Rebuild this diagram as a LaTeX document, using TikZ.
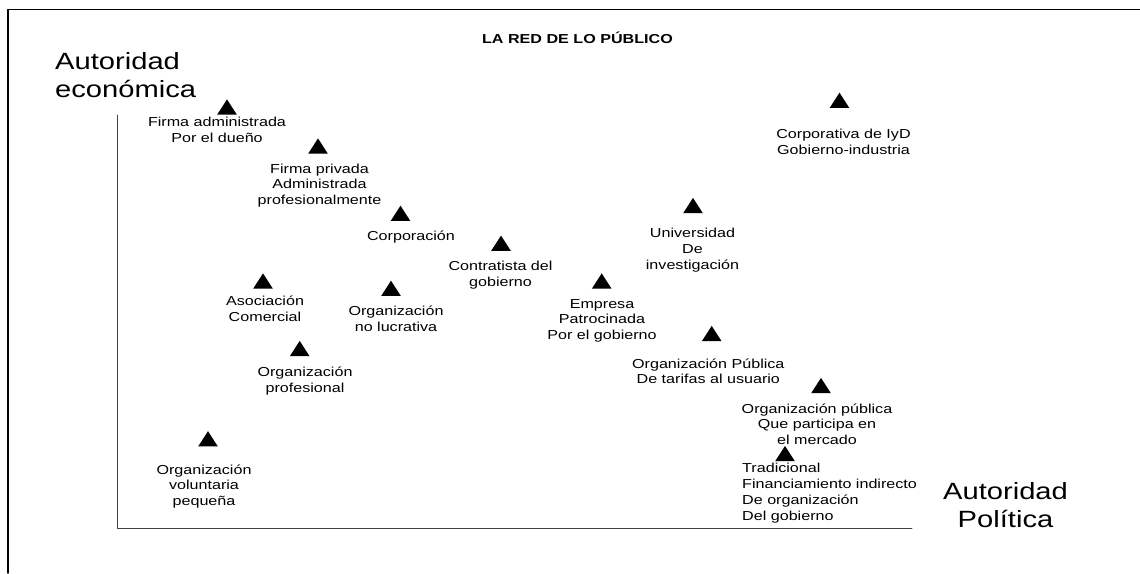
\documentclass[tikz,border=0pt]{standalone}
\usepackage{fontspec}
\setmainfont{Liberation Sans}[FakeStretch=1.24]
\newcommand{\tope}{\rule{0pt}{12pt}}
\newcommand{\topegr}{\rule{0pt}{20pt}}
\tikzset{
  pics/marca/.style={code={\fill (-9.8,7.6) -- (0,-7.6) -- (9.8,7.6) -- cycle;}},
  etiq/.style={font=\fontsize{13}{15.7}\selectfont,align=center,anchor=north,inner sep=0pt},
  titeje/.style={font=\fontsize{23.5}{27.5}\selectfont,inner sep=0pt},
}
\begin{document}
\begin{tikzpicture}[x=1pt,y=-1pt,line cap=round,line join=round]
  \useasboundingbox (0,0) rectangle (1140,573);
  % marco y ejes
  \draw[line width=1.8pt] (8,573) -- (8,9.5) -- (1140,9.5);
  \draw[line width=0.9pt,black!75] (117,115) -- (117,528.5) -- (912,528.5);
  \node[font=\fontsize{13}{15}\selectfont\bfseries,anchor=base,inner sep=0pt] (titulo) at (577.5,43.3) {LA RED DE LO PÚBLICO};
  \node[titeje,align=left,anchor=north west] (ejey) at (55,49.7) {\topegr Autoridad\\económica};
  \node[titeje,align=center,anchor=north] (ejex) at (1005.5,479.7) {\topegr Autoridad\\Política};
  % organizaciones
  \pic (m1) at (227,107) {marca};
  \node[etiq] (e1) at (217,114.5) {\tope Firma administrada\\Por el dueño};
  \pic (m2) at (318,146) {marca};
  \node[etiq] (e2) at (319.5,161) {\tope Firma privada\\Administrada\\profesionalmente};
  \pic (m3) at (400.5,213.3) {marca};
  \node[etiq] (e3) at (411,228) {\tope Corporación};
  \pic (m4) at (501,243.2) {marca};
  \node[etiq] (e4) at (500.5,258.5) {\tope Contratista del\\gobierno};
  \pic (m5) at (693,205.5) {marca};
  \node[etiq] (e5) at (692.5,225.5) {\tope Universidad\\De\\investigación};
  \pic (m6) at (839.5,100.3) {marca};
  \node[etiq] (e6) at (843.5,126.5) {\tope Corporativa de IyD\\Gobierno-industria};
  \pic (m7) at (263,281) {marca};
  \node[etiq] (e7) at (265,293.5) {\tope Asociación\\Comercial};
  \pic (m8) at (391,288.3) {marca};
  \node[etiq] (e8) at (396,303.5) {\tope Organización\\no lucrativa};
  \pic (m9) at (601.7,281) {marca};
  \node[etiq] (e9) at (602,296) {\tope Empresa\\Patrocinada\\Por el gobierno};
  \pic (m10) at (299.7,348.5) {marca};
  \node[etiq] (e10) at (305,364.5) {\tope Organización\\profesional};
  \pic (m11) at (711.7,333.5) {marca};
  \node[etiq] (e11) at (708.3,356) {\tope Organización Pública\\De tarifas al usuario};
  \pic (m12) at (821,385.5) {marca};
  \node[etiq] (e12) at (817,401) {\tope Organización pública\\Que participa en\\el mercado};
  \pic (m13) at (785,453.5) {marca};
  \node[etiq,align=left,anchor=north west] (e13) at (742,460.7) {\tope Tradicional\\Financiamiento indirecto\\De organización\\Del gobierno};
  \pic (m14) at (208,438.8) {marca};
  \node[etiq] (e14) at (204,462) {\tope Organización\\voluntaria\\pequeña};
\end{tikzpicture}
\end{document}
